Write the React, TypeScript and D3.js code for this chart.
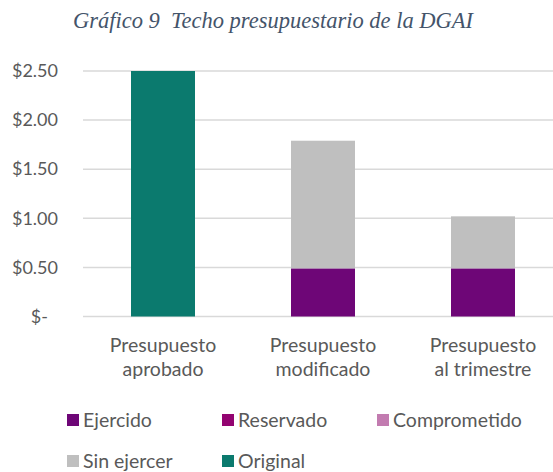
import React, { useEffect, useRef } from "react";
import * as d3 from "d3";

// chart data
const categories = [["Presupuesto", "aprobado"], ["Presupuesto", "modificado"], ["Presupuesto", "al trimestre"]];
const ejercido = [0, 0.49, 0.49];
const reservado = [0, 0, 0];
const comprometido = [0, 0, 0];
const sinEjercer = [0, 1.3, 0.53];
const original = [2.5, 0, 0];
const seriesNames = ["Ejercido", "Reservado", "Comprometido", "Sin ejercer", "Original"];
const seriesColors = ["#6e0677", "#930471", "#c27bb0", "#bfbfbf", "#0b7a6e"];
const yTicks = [0, 0.5, 1, 1.5, 2, 2.5];

const App = () => {
  const svgRef = useRef(null);

  useEffect(() => {
    const svg = d3.select(svgRef.current);
    svg.selectAll("*").remove();

    const width = 553;
    const height = 472;
    const font = "Lato, 'Open Sans', sans-serif";
    const textColor = "#595959";

    svg.attr("width", width).attr("height", height);

    // title (double space kept like the original)
    svg
      .append("text")
      .attr("x", 273)
      .attr("y", 28)
      .attr("text-anchor", "middle")
      .style("white-space", "pre")
      .style("font-family", "'Liberation Serif', 'Times New Roman', serif")
      .style("font-style", "italic")
      .style("font-size", "22.5px")
      .style("fill", "#44546a")
      .text("Gráfico 9  Techo presupuestario de la DGAI");

    const keys = categories.map((c) => c.join(" "));
    const x = d3.scaleBand().domain(keys).range([83, 563]).paddingInner(0.6).paddingOuter(0.3);
    const y = d3.scaleLinear().domain([0, 2.5]).range([316.5, 71]);

    // gridlines
    svg
      .append("g")
      .selectAll("line")
      .data(yTicks)
      .join("line")
      .attr("x1", 83)
      .attr("x2", 563)
      .attr("y1", (d) => y(d))
      .attr("y2", (d) => y(d))
      .attr("stroke", "#d9d9d9")
      .attr("stroke-width", 1.5);

    // y axis labels
    const yAxis = svg
      .append("g")
      .attr("transform", "translate(58,0)")
      .call(
        d3
          .axisLeft(y)
          .tickValues(yTicks)
          .tickSize(0)
          .tickPadding(0)
          .tickFormat((d) => (d === 0 ? "$-" : d3.format("$.2f")(d)))
      );
    yAxis.select(".domain").remove();
    yAxis
      .selectAll("text")
      .style("font-family", font)
      .style("font-size", "18px")
      .style("fill", textColor)
      .attr("dx", (d) => (d === 0 ? -10 : 0));

    // stacked bars
    const rows = keys.map((k, i) => ({
      key: k,
      Ejercido: ejercido[i],
      Reservado: reservado[i],
      Comprometido: comprometido[i],
      "Sin ejercer": sinEjercer[i],
      Original: original[i],
    }));
    const stacked = d3.stack().keys(seriesNames)(rows);

    svg
      .append("g")
      .selectAll("g")
      .data(stacked)
      .join("g")
      .attr("fill", (d, i) => seriesColors[i])
      .selectAll("rect")
      .data((d) => d.filter((s) => s[1] - s[0] > 0))
      .join("rect")
      .attr("x", (d) => x(d.data.key))
      .attr("width", x.bandwidth())
      .attr("y", (d) => y(d[1]))
      .attr("height", (d) => y(d[0]) - y(d[1]));

    // category labels
    const cat = svg
      .append("g")
      .selectAll("text")
      .data(categories)
      .join("text")
      .attr("text-anchor", "middle")
      .style("font-family", font)
      .style("font-size", "19.5px")
      .style("fill", textColor);
    cat
      .selectAll("tspan")
      .data((d) => d.map((line) => ({ line, key: d.join(" ") })))
      .join("tspan")
      .attr("x", (d) => x(d.key) + x.bandwidth() / 2)
      .attr("y", (d, i) => 352 + i * 24)
      .text((d) => d.line);

    // legend
    const legend = svg
      .append("g")
      .selectAll("g")
      .data(seriesNames)
      .join("g")
      .attr("transform", (d, i) => `translate(${67 + (i % 3) * 155},${i < 3 ? 420 : 461})`);
    legend
      .append("rect")
      .attr("x", 0)
      .attr("y", -6)
      .attr("width", 12)
      .attr("height", 12)
      .attr("fill", (d, i) => seriesColors[i]);
    legend
      .append("text")
      .attr("x", 16)
      .attr("y", 7)
      .style("font-family", font)
      .style("font-size", "19.5px")
      .style("fill", textColor)
      .text((d) => d);
  }, []);

  return (
    <div style={{ position: "absolute", left: 0, top: 0, background: "#fff" }}>
      <svg ref={svgRef} style={{ display: "block" }}></svg>
    </div>
  );
};

export default App;
